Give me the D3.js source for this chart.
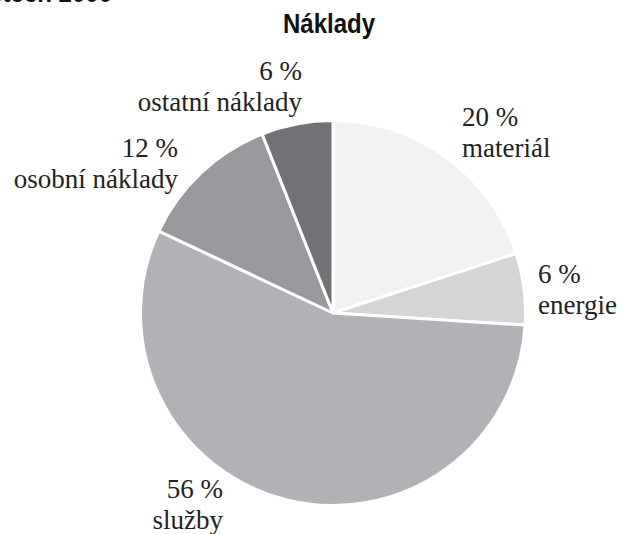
<!DOCTYPE html>
<html>
<head>
<meta charset="utf-8">
<script src="https://cdn.jsdelivr.net/npm/d3@7"></script>
<style>
  body { margin: 0; background: #fff; }
  svg { display: block; }
</style>
</head>
<body>
<svg id="chart" width="622" height="534"></svg>
<script>
// Data
const categories = ["materiál", "energie", "služby", "osobní náklady", "ostatní náklady"];
const values = [20, 6, 56, 12, 6];
const colors = ["#f0f1f2", "#d4d5d7", "#b1b2b5", "#98999c", "#717276"];
const title = "Náklady";

// label placement (anchor + position per slice)
const labelPos = [
    { x: 462, y: 126, anchor: "start" },
    { x: 538, y: 283, anchor: "start" },
    { x: 223, y: 498, anchor: "end" },
    { x: 178, y: 157, anchor: "end" },
    { x: 302, y: 80, anchor: "end" }
];

const svg = d3.select("#chart");
const cx = 333, cy = 313, radius = 192.5;

// clipped heading fragment at the very top
svg.append("text")
    .attr("x", 112)
    .attr("y", 2)
    .attr("text-anchor", "end")
    .attr("font-family", "'Liberation Sans', sans-serif")
    .attr("font-weight", "bold")
    .attr("font-size", 24)
    .attr("fill", "#111")
    .text("v letech 2000");

// Title
svg.append("text")
    .attr("x", 283)
    .attr("y", 33)
    .attr("font-family", "'Liberation Sans', sans-serif")
    .attr("font-weight", "bold")
    .attr("font-size", 27)
    .attr("textLength", 92)
    .attr("lengthAdjust", "spacingAndGlyphs")
    .attr("fill", "#111")
    .text(title);

const data = categories.map((c, i) => ({ name: c, value: values[i], color: colors[i] }));

const pie = d3.pie()
    .sort(null)
    .value(d => d.value);

const arc = d3.arc()
    .innerRadius(0)
    .outerRadius(radius);

const g = svg.append("g")
    .attr("transform", `translate(${cx},${cy})`);

g.selectAll("path")
    .data(pie(data))
    .enter()
    .append("path")
    .attr("d", arc)
    .attr("fill", d => d.data.color)
    .attr("stroke", "#fff")
    .attr("stroke-width", 3)
    .attr("stroke-linejoin", "round");

// Labels
const labels = svg.selectAll(".lbl")
    .data(data)
    .enter()
    .append("text")
    .attr("class", "lbl")
    .attr("text-anchor", (d, i) => labelPos[i].anchor)
    .attr("font-family", "'Liberation Serif', serif")
    .attr("font-size", 27)
    .attr("fill", "#222");

labels.append("tspan")
    .attr("x", (d, i) => labelPos[i].x)
    .attr("y", (d, i) => labelPos[i].y)
    .text(d => `${d.value} %`);

labels.append("tspan")
    .attr("x", (d, i) => labelPos[i].x)
    .attr("dy", 31)
    .text(d => d.name);
</script>
</body>
</html>
